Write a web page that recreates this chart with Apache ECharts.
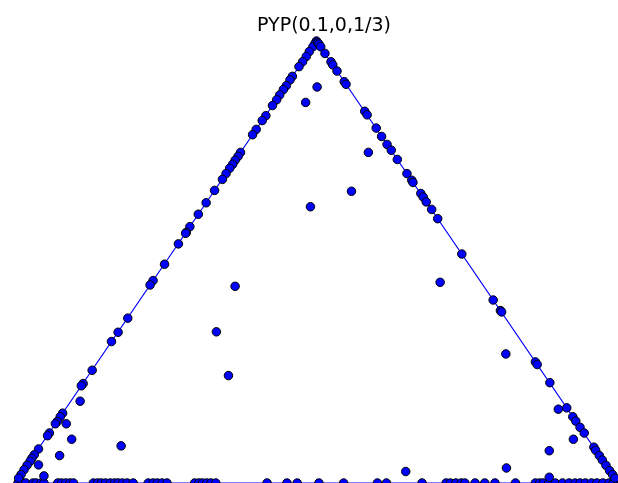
<!DOCTYPE html>
<html>
<head>
<meta charset="utf-8">
<script src="https://cdn.jsdelivr.net/npm/echarts@6/dist/echarts.min.js"></script>
<style>
  html, body { margin: 0; padding: 0; background: #fff; }
  #chart { width: 618px; height: 483px; }
</style>
</head>
<body>
<div id="chart"></div>
<script>
// Simplex corners (x, y), y = 1 at the apex
var simplexCorners = [[0, 0], [1, 0], [0.5, 1], [0, 0]];

// Samples lying on the left side of the simplex
var leftSide = [
  [0.500,1.000],[0.499,0.997],[0.497,0.993],[0.494,0.987],[0.488,0.976],[0.483,0.965],
  [0.477,0.953],[0.471,0.942],[0.460,0.920],[0.456,0.912],[0.450,0.899],[0.445,0.890],
  [0.439,0.878],[0.434,0.867],[0.427,0.854],[0.416,0.831],[0.410,0.820],[0.400,0.800],
  [0.394,0.788],[0.374,0.748],[0.370,0.739],[0.365,0.730],[0.361,0.721],[0.356,0.712],
  [0.350,0.700],[0.344,0.687],[0.331,0.662],[0.317,0.634],[0.304,0.608],[0.290,0.580],
  [0.284,0.567],[0.283,0.565],[0.271,0.541],[0.248,0.495],[0.229,0.458],[0.224,0.448],
  [0.187,0.373],[0.171,0.341],[0.160,0.320],[0.128,0.255],[0.113,0.225],[0.110,0.220],
  [0.079,0.158],[0.075,0.150],[0.070,0.139],[0.067,0.134],[0.057,0.113],[0.054,0.107],
  [0.039,0.077],[0.032,0.064],[0.028,0.056],[0.025,0.049],[0.020,0.040],[0.015,0.030],
  [0.010,0.019],[0.006,0.011]
];

// Samples lying on the right side of the simplex
var rightSide = [
  [0.502,0.996],[0.504,0.993],[0.507,0.987],[0.514,0.972],[0.524,0.953],[0.527,0.946],
  [0.534,0.932],[0.546,0.908],[0.549,0.902],[0.580,0.841],[0.584,0.833],[0.599,0.803],
  [0.608,0.784],[0.617,0.766],[0.624,0.753],[0.634,0.732],[0.650,0.700],[0.658,0.685],
  [0.660,0.680],[0.673,0.655],[0.677,0.647],[0.682,0.636],[0.691,0.619],[0.701,0.598],
  [0.741,0.518],[0.793,0.414],[0.805,0.390],[0.807,0.387],[0.863,0.274],[0.866,0.268],
  [0.887,0.227],[0.915,0.170],[0.925,0.150],[0.930,0.140],[0.937,0.126],[0.944,0.113],
  [0.960,0.081],[0.963,0.074],[0.969,0.062],[0.974,0.052],[0.980,0.040],[0.986,0.028],
  [0.991,0.019],[0.995,0.011]
];

// Samples along the base (y = 0), by x
var baseX = [
  0.005,0.013,0.018,0.030,0.035,0.043,0.048,0.071,0.077,0.084,0.091,0.097,
  0.130,0.137,0.143,0.150,0.158,0.165,0.171,0.178,0.186,0.196,
  0.221,0.229,0.236,0.244,0.252,0.298,0.305,0.311,0.318,0.325,0.333,
  0.418,0.451,0.468,0.504,0.545,0.601,0.616,0.675,
  0.715,0.722,0.731,0.740,0.746,0.763,0.779,0.796,0.830,
  0.863,0.870,0.876,0.885,0.896,0.908,0.919,0.929,0.937,0.946,0.956,0.965,0.975,0.985,0.992
];

// Samples strictly inside the simplex
var interior = [
  [0.482,0.861],[0.501,0.896],[0.586,0.748],[0.558,0.660],[0.490,0.625],
  [0.365,0.445],[0.334,0.342],[0.354,0.243],[0.705,0.454],[0.814,0.292],
  [0.901,0.167],[0.926,0.099],[0.886,0.073],[0.815,0.034],[0.648,0.026],
  [0.886,0.013],[0.176,0.084],[0.108,0.185],[0.085,0.134],[0.094,0.099],
  [0.074,0.062],[0.039,0.041],[0.048,0.016]
];

var samples = []
  .concat(baseX.map(function (x) { return [x, 0]; }))
  .concat(leftSide)
  .concat(rightSide)
  .concat(interior);

var chart = echarts.init(document.getElementById('chart'), null, { renderer: 'canvas' });
chart.setOption({
  animation: false,
  backgroundColor: '#ffffff',
  title: {
    text: 'PYP(0.1,0,1/3)',
    left: 319,
    textAlign: 'center',
    top: 12,
    textStyle: { fontFamily: 'DejaVu Sans', fontSize: 19, fontWeight: 'normal', color: '#000' }
  },
  grid: { left: 15, top: 41, width: 608, height: 444, containLabel: false },
  xAxis: { type: 'value', min: 0, max: 1, show: false },
  yAxis: { type: 'value', min: 0, max: 1, show: false },
  series: [
    {
      type: 'line',
      data: simplexCorners,
      symbol: 'none',
      lineStyle: { color: '#0000ff', width: 1.2 },
      z: 1
    },
    {
      type: 'scatter',
      data: samples,
      symbol: 'circle',
      symbolSize: 8.5,
      itemStyle: { color: '#0000ff', borderColor: '#000', borderWidth: 1, opacity: 1 },
      z: 2
    }
  ]
});
</script>
</body>
</html>
